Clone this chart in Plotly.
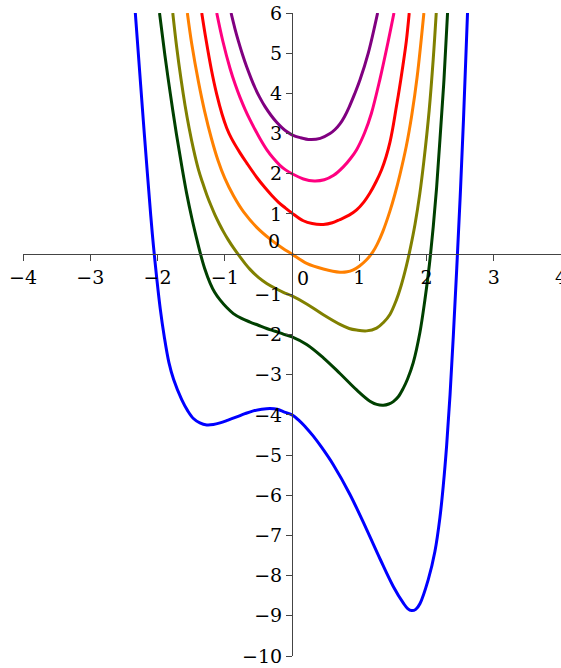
import plotly.graph_objects as go

# ---- data ----
purple_x = [-0.906, -0.85, -0.797, -0.735, -0.674, -0.61, -0.55, -0.48, -0.401, -0.31, -0.228, -0.15, -0.079, 0.0, 0.12, 0.27, 0.42, 0.565, 0.64, 0.713, 0.78, 0.85, 0.93, 1.01, 1.134, 1.273]
purple_y = [6.0, 5.62, 5.3, 4.96, 4.66, 4.38, 4.14, 3.9, 3.67, 3.45, 3.28, 3.15, 3.05, 2.97, 2.9, 2.85, 2.88, 3.0, 3.1, 3.24, 3.42, 3.66, 3.98, 4.33, 5.0, 6.0]

pink_x = [-1.119, -1.03, -0.921, -0.84, -0.773, -0.7, -0.624, -0.55, -0.475, -0.376, -0.28, -0.18, -0.09, 0.0, 0.17, 0.33, 0.48, 0.62, 0.763, 0.87, 0.961, 1.08, 1.18, 1.307, 1.431, 1.516]
pink_y = [6.0, 5.31, 4.62, 4.2, 3.9, 3.61, 3.34, 3.1, 2.87, 2.6, 2.39, 2.21, 2.09, 2.0, 1.87, 1.82, 1.85, 1.96, 2.17, 2.38, 2.6, 3.02, 3.5, 4.35, 5.3, 6.0]

red_x = [-1.342, -1.28, -1.2, -1.12, -1.04, -0.971, -0.9, -0.773, -0.674, -0.52, -0.4, -0.3, -0.2, -0.1, 0.0, 0.168, 0.3, 0.466, 0.6, 0.713, 0.85, 0.961, 1.07, 1.159, 1.25, 1.332, 1.4, 1.456, 1.5, 1.545, 1.6, 1.65, 1.7, 1.743]
red_y = [6.0, 5.35, 4.6, 3.98, 3.48, 3.14, 2.88, 2.52, 2.27, 1.9, 1.65, 1.46, 1.29, 1.15, 1.02, 0.83, 0.76, 0.74, 0.78, 0.86, 0.97, 1.1, 1.3, 1.52, 1.8, 2.1, 2.43, 2.78, 3.15, 3.6, 4.15, 4.7, 5.3, 6.0]

orange_x = [-1.556, -1.49, -1.39, -1.3, -1.2, -1.1, -1.0, -0.87, -0.72, -0.52, -0.33, -0.15, 0.0, 0.218, 0.466, 0.713, 0.82, 0.911, 1.0, 1.109, 1.2, 1.268, 1.35, 1.456, 1.53, 1.605, 1.7, 1.78, 1.86, 1.961]
orange_y = [6.0, 5.22, 4.28, 3.56, 2.89, 2.33, 1.89, 1.45, 1.05, 0.66, 0.38, 0.16, 0.0, -0.23, -0.37, -0.45, -0.44, -0.39, -0.3, -0.14, 0.05, 0.25, 0.56, 1.07, 1.49, 1.98, 2.69, 3.45, 4.4, 6.0]

olive_x = [-1.773, -1.714, -1.65, -1.59, -1.53, -1.466, -1.392, -1.33, -1.268, -1.2, -1.144, -1.08, -1.02, -0.95, -0.872, -0.773, -0.7, -0.624, -0.5, -0.376, -0.25, -0.129, 0.0, 0.218, 0.466, 0.713, 0.85, 0.961, 1.109, 1.258, 1.36, 1.456, 1.55, 1.62, 1.7, 1.76, 1.83, 1.9, 1.96, 2.04, 2.1, 2.145]
olive_y = [6.0, 5.14, 4.35, 3.7, 3.14, 2.62, 2.11, 1.78, 1.48, 1.19, 0.97, 0.75, 0.56, 0.36, 0.16, -0.07, -0.23, -0.38, -0.58, -0.73, -0.85, -0.95, -1.04, -1.24, -1.51, -1.75, -1.85, -1.89, -1.91, -1.84, -1.7, -1.5, -1.15, -0.8, -0.3, 0.15, 0.75, 1.5, 2.3, 3.58, 4.85, 6.0]

dkgreen_x = [-1.97, -1.89, -1.81, -1.72, -1.64, -1.565, -1.49, -1.42, -1.36, -1.3, -1.218, -1.15, -1.07, -0.97, -0.872, -0.75, -0.624, -0.5, -0.376, -0.25, -0.129, 0.0, 0.218, 0.466, 0.713, 0.961, 1.159, 1.26, 1.357, 1.44, 1.506, 1.58, 1.654, 1.72, 1.803, 1.902, 1.976, 2.026, 2.06, 2.1, 2.15, 2.2, 2.26, 2.313]
dkgreen_y = [6.0, 4.95, 4.0, 3.0, 2.2, 1.5, 0.9, 0.4, 0.0, -0.35, -0.72, -0.95, -1.14, -1.33, -1.48, -1.6, -1.69, -1.77, -1.85, -1.92, -1.99, -2.06, -2.25, -2.58, -2.97, -3.38, -3.66, -3.74, -3.76, -3.73, -3.67, -3.55, -3.34, -3.1, -2.7, -1.95, -1.14, -0.5, 0.0, 0.68, 1.65, 2.85, 4.35, 6.0]

blue_x = [-2.33, -2.27, -2.21, -2.15, -2.1, -2.06, -2.01, -1.96, -1.9, -1.83, -1.76, -1.64, -1.55, -1.466, -1.37, -1.268, -1.17, -1.07, -0.95, -0.822, -0.7, -0.575, -0.45, -0.327, -0.22, -0.129, 0.0, 0.119, 0.2, 0.317, 0.45, 0.614, 0.862, 1.109, 1.308, 1.506, 1.654, 1.72, 1.778, 1.84, 1.902, 2.026, 2.125, 2.2, 2.25, 2.3, 2.35, 2.4, 2.45, 2.5, 2.55, 2.61]
blue_y = [6.0, 4.65, 3.3, 2.0, 0.95, 0.2, -0.62, -1.35, -2.05, -2.7, -3.12, -3.62, -3.9, -4.09, -4.2, -4.25, -4.24, -4.2, -4.13, -4.05, -3.97, -3.9, -3.86, -3.84, -3.86, -3.92, -4.0, -4.16, -4.3, -4.53, -4.83, -5.24, -5.98, -6.85, -7.58, -8.27, -8.68, -8.82, -8.87, -8.84, -8.7, -8.1, -7.4, -6.55, -5.75, -4.75, -3.5, -2.0, -0.35, 1.4, 3.35, 6.0]

curve_colors = ["#800080", "#ff0080", "#ff0000", "#ff8000", "#808000", "#004000", "#0000ff"]

x_tick_vals = [-4, -3, -2, -1, 1, 2, 3, 4]
x_tick_text = ["\u22124", "\u22123", "\u22122", "\u22121", "1", "2", "3", "4"]
y_tick_vals = [-10, -9, -8, -7, -6, -5, -4, -3, -2, -1, 1, 2, 3, 4, 5, 6]
y_tick_text = ["\u221210", "\u22129", "\u22128", "\u22127", "\u22126", "\u22125", "\u22124", "\u22123",
               "\u22122", "\u22121", "1", "2", "3", "4", "5", "6"]
zero_label = "0"

x_range = [-4, 4]
y_range = [-10, 6]

# ---- figure ----
series = [
    (purple_x, purple_y), (pink_x, pink_y), (red_x, red_y), (orange_x, orange_y),
    (olive_x, olive_y), (dkgreen_x, dkgreen_y), (blue_x, blue_y),
]

fig = go.Figure()
for (xs, ys), col in zip(series, curve_colors):
    fig.add_trace(go.Scatter(
        x=xs, y=ys, mode="lines",
        line=dict(color=col, width=3, shape="spline", smoothing=1.0),
        hoverinfo="skip", showlegend=False,
    ))

font = dict(family="DejaVu Serif", size=19, color="black")
axis_col = "#444444"
x_pos = (0 - y_range[0]) / (y_range[1] - y_range[0])
y_pos = (0 - x_range[0]) / (x_range[1] - x_range[0])

common = dict(showgrid=False, zeroline=False, fixedrange=True, automargin=False)

fig.update_layout(
    width=561, height=668,
    margin=dict(l=23, r=0, t=13, b=12, pad=0, autoexpand=False),
    paper_bgcolor="white", plot_bgcolor="white",
    showlegend=False,
    xaxis=dict(range=x_range, anchor="free", position=x_pos, showline=True,
               linecolor=axis_col, linewidth=1, ticks="outside", ticklen=6,
               tickwidth=1, tickcolor=axis_col, tickvals=x_tick_vals,
               ticktext=x_tick_text, tickfont=font, ticklabeloverflow="allow",
               **common),
    yaxis=dict(range=y_range, anchor="free", position=y_pos, showline=True,
               linecolor=axis_col, linewidth=1, ticks="outside", ticklen=6,
               tickwidth=1, tickcolor=axis_col, tickvals=y_tick_vals,
               ticktext=y_tick_text, tickfont=font, ticklabeloverflow="allow",
               **common),
    xaxis2=dict(range=x_range, overlaying="x", anchor="free", position=x_pos,
                side="bottom", showline=False, ticks="inside", ticklen=6,
                tickwidth=1, tickcolor=axis_col, tickvals=x_tick_vals,
                showticklabels=False, **common),
    yaxis2=dict(range=y_range, overlaying="y", anchor="free", position=y_pos,
                side="left", showline=False, ticks="inside", ticklen=6,
                tickwidth=1, tickcolor=axis_col, tickvals=y_tick_vals,
                showticklabels=False, **common),
    annotations=[
        dict(x=0, y=0, xref="x", yref="y", text=zero_label, showarrow=False,
             xanchor="left", yanchor="top", xshift=3, yshift=-11, font=font),
        dict(x=0, y=0, xref="x", yref="y", text=zero_label, showarrow=False,
             xanchor="right", yanchor="bottom", xshift=-10, yshift=0, font=font),
    ],
)

fig.write_html(
    "out.html",
    config={"displayModeBar": False, "staticPlot": True},
    post_script="document.body.style.margin='0';document.body.style.overflow='hidden';",
)
